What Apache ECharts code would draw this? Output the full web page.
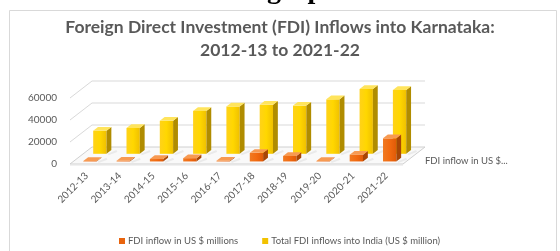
<!DOCTYPE html>
<html><head><meta charset="utf-8">
<script src="https://cdn.jsdelivr.net/npm/echarts@6/dist/echarts.min.js"></script>
<style>html,body{margin:0;padding:0;background:#fff}#c{width:560px;height:251px}</style>
</head><body><div id="c"></div>
<script>
var categories = ['2012-13','2013-14','2014-15','2015-16','2016-17','2017-18','2018-19','2019-20','2020-21','2021-22'];
var karnataka = [400, 600, 2200, 3000, 600, 7800, 5000, 400, 6200, 21000];
var india = [21000, 23500, 30000, 39000, 43000, 44500, 43800, 49500, 59000, 58000];
var yTicks = [0, 20000, 40000, 60000];
var seriesNames = ['FDI inflow in US $ millions', 'Total FDI inflows into India (US $ million)'];
var titleLines = ['Foreign Direct Investment (FDI) Inflows into Karnataka:', '2012-13 to 2021-22'];

var DX = 22, DY = -17;
var FONT = 'Lato';
var chart = echarts.init(document.getElementById('c'), null, {renderer: 'canvas'});

function barRender(d0, d1, front, side, topc) {
  return function (params, api) {
    var idx = api.value(0), val = api.value(1);
    var base = api.coord([idx, 0]), top = api.coord([idx, val]);
    var band = api.size([1, 0])[0];
    var w = band * 0.2;
    var cx = base[0] + d0 * DX;
    var x0 = cx - w, x1 = cx + w;
    var y0 = top[1] + d0 * DY, y1 = base[1] + d0 * DY;
    var bx = (d1 - d0) * DX, by = (d1 - d0) * DY;
    return {type: 'group', children: [
      {type: 'polygon', shape: {points: [[x1 + 1, y1], [x1 + bx + 5, y1 + by], [x1 + bx + 6, y1 + by + 2], [x1 + 2, y1 + 1.5]]}, style: {fill: 'rgba(0,0,0,0.06)'}},
      {type: 'rect', shape: {x: x0, y: y0, width: x1 - x0, height: y1 - y0}, style: {fill: front}},
      {type: 'polygon', shape: {points: [[x1, y0], [x1 + bx, y0 + by], [x1 + bx, y1 + by], [x1, y1]]}, style: {fill: side}},
      {type: 'polygon', shape: {points: [[x0, y0], [x1, y0], [x1 + bx, y0 + by], [x0 + bx, y0 + by]]}, style: {fill: topc}}
    ]};
  };
}

function wallRender(params, api) {
  var v = api.value(1);
  var y = api.coord([0, v])[1];
  var cs = params.coordSys;
  var gx = cs.x, gw = cs.width;
  var children = [];
  if (v === 0) {
    children.push({type: 'polygon', shape: {points: [[gx, y], [gx + gw, y], [gx + gw + DX, y + DY], [gx + DX, y + DY]]},
      style: {fill: '#f9f9f9', stroke: '#d0d0d0', lineWidth: 1}});
    children.push({type: 'line', shape: {x1: gx, y1: y + 1, x2: gx + gw, y2: y + 1}, style: {stroke: '#e4e4e4', lineWidth: 1}});
  } else {
    children.push({type: 'polyline', shape: {points: [[gx, y], [gx + DX, y + DY], [gx + gw + DX, y + DY]]},
      style: {fill: null, stroke: '#d9d9d9', lineWidth: 1}});
  }
  return {type: 'group', children: children};
}

var wallData = yTicks.map(function (v) { return [0, v]; });
var kData = karnataka.map(function (v, i) { return [i, v]; });
var iData = india.map(function (v, i) { return [i, v]; });

chart.setOption({
  backgroundColor: '#ffffff',
  animation: false,
  legend: {
    data: seriesNames,
    left: 114, top: 231,
    itemWidth: 6, itemHeight: 6, itemGap: 24, icon: 'rect',
    textStyle: {fontFamily: FONT, fontSize: 9.5, color: '#595959', padding: [0, 0, 0, -2]}
  },
  grid: {left: 70, right: 157, top: 98, bottom: 87, containLabel: false},
  xAxis: {
    type: 'category', data: categories,
    axisLine: {show: false}, axisTick: {show: false}, splitLine: {show: false},
    axisLabel: {rotate: 45, margin: 10, fontFamily: FONT, fontSize: 10, color: '#595959', interval: 0}
  },
  yAxis: {
    type: 'value', min: 0, max: 60000, interval: 20000,
    axisLine: {show: false}, axisTick: {show: false}, splitLine: {show: false},
    axisLabel: {margin: 13, fontFamily: FONT, fontSize: 10, color: '#595959', formatter: function (v) { return String(v); }}
  },
  graphic: [
    {type: 'rect', shape: {x: 9.5, y: 10.5, width: 547, height: 250}, style: {fill: null, stroke: '#d9d9d9', lineWidth: 1}, z: -10},
    {type: 'text', x: 267, y: 5, style: {text: 'graph', font: 'bold 28px "Liberation Serif"', fill: '#000', verticalAlign: 'bottom'}},
    {type: 'text', x: 280, y: 27, style: {text: titleLines[0], font: 'bold 17.5px ' + FONT, fill: '#595959', align: 'center', verticalAlign: 'middle'}},
    {type: 'text', x: 280, y: 50, style: {text: titleLines[1], font: 'bold 17.5px ' + FONT, fill: '#595959', align: 'center', verticalAlign: 'middle'}},
    {type: 'text', x: 425, y: 161, style: {text: 'FDI inflow in US $...', font: '9.5px ' + FONT, fill: '#595959', verticalAlign: 'middle'}}
  ],
  series: [
    {type: 'custom', name: 'walls', data: wallData, encode: {x: 0, y: 1}, renderItem: wallRender, clip: false, silent: true, z: 1},
    {type: 'custom', name: seriesNames[1], data: iData, encode: {x: 0, y: 1}, clip: false, z: 2,
      itemStyle: {color: '#F2C200'},
      renderItem: barRender(0.6, 0.82,
        new echarts.graphic.LinearGradient(0, 0, 1, 0, [{offset: 0, color: '#FFD21A'}, {offset: 0.5, color: '#FFD700'}, {offset: 1, color: '#F0C000'}]),
        '#B08C00', '#FFE45C')},
    {type: 'custom', name: seriesNames[0], data: kData, encode: {x: 0, y: 1}, clip: false, z: 3,
      itemStyle: {color: '#E8640E'},
      renderItem: barRender(0.15, 0.37,
        new echarts.graphic.LinearGradient(0, 0, 1, 0, [{offset: 0, color: '#F07A22'}, {offset: 0.5, color: '#F26A10'}, {offset: 1, color: '#E05A08'}]),
        '#A84606', '#F79A52')}
  ]
});
</script></body></html>
